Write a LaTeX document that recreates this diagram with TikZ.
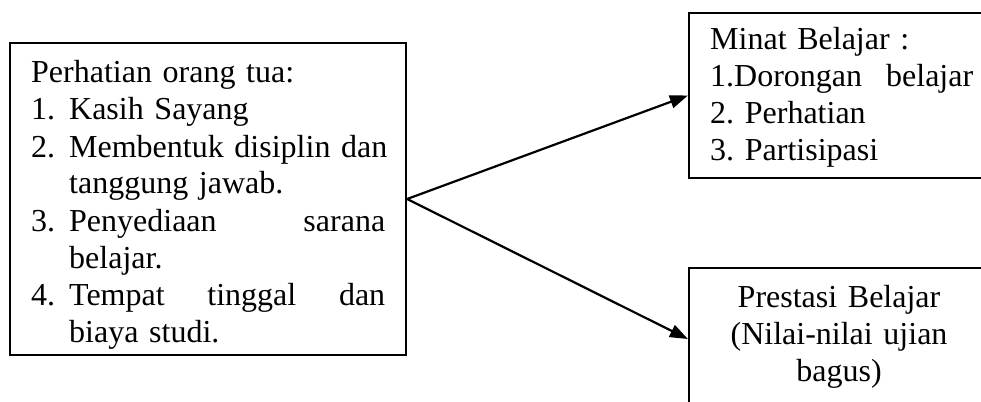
\documentclass[tikz,border=0pt]{standalone}
\usepackage{fontspec}
\setmainfont{Liberation Serif}
\usetikzlibrary{arrows.meta}
\frenchspacing
\newcommand{\spreadline}[2]{\leavevmode\hbox to #1{#2}}
\begin{document}
\begin{tikzpicture}[x=1pt,y=-1pt,
  box/.style={draw, line width=2.2pt, rectangle, inner sep=0pt},
  txt/.style={inner sep=0pt, font=\fontsize{32}{37}\selectfont\frenchspacing},
  arr/.style={line width=2.2pt, -{Triangle[length=18pt,width=13pt]}}]
\useasboundingbox (0,0) rectangle (981,401);
\clip (0,0) rectangle (981,401);

% frames
\node[box, minimum width=396pt, minimum height=312pt] (parent) at (208,199) {};
\node[box, minimum width=301pt, minimum height=165pt] (minat) at (839.5,95.5) {};
\node[box, minimum width=301pt, minimum height=142pt] (prestasi) at (839.5,339) {};

% texts
\node[txt, text width=356pt, align=left, anchor=base west] (parentText) at (31,83) {Perhatian orang tua:\\
\makebox[38pt][l]{1.}Kasih Sayang\\
\makebox[38pt][l]{2.}\spreadline{316pt}{Membentuk\hfill\ disiplin\hfill\ dan}\\
\hspace*{38pt}tanggung jawab.\\
\makebox[38pt][l]{3.}\spreadline{316pt}{Penyediaan\hfill\ sarana}\\
\hspace*{38pt}belajar.\\
\makebox[38pt][l]{4.}\spreadline{316pt}{Tempat\hfill\ tinggal\hfill\ dan}\\
\hspace*{38pt}biaya studi.};

\node[txt, text width=270pt, align=left, anchor=base west] (minatText) at (710,50) {Minat Belajar :\\
\spreadline{263pt}{1.Dorongan\hfill\ belajar}\\
2. Perhatian\\
3. Partisipasi};

\node[txt, text width=290pt, align=center, anchor=base] (prestasiText) at (839,307) {Prestasi Belajar\\
(Nilai-nilai ujian\\
bagus)};

% connectors
\draw[arr] (parent.east) -- (minat.west);
\draw[arr] (parent.east) -- (prestasi.west);
\end{tikzpicture}
\end{document}
